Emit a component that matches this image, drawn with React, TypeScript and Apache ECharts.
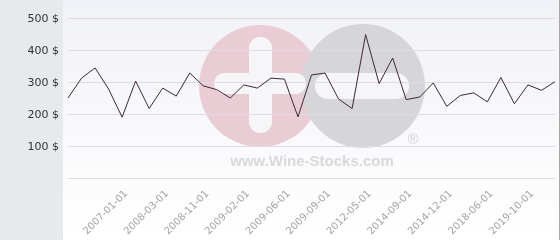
import React, { useEffect, useRef } from "react";
import * as echarts from "echarts";

const dates = [
  "2005-06-01", "2005-11-01", "2006-03-01", "2006-09-01", "2007-01-01",
  "2007-05-01", "2007-10-01", "2008-03-01", "2008-06-01", "2008-09-01",
  "2008-11-01", "2008-12-01", "2009-01-01", "2009-02-01", "2009-03-01",
  "2009-05-01", "2009-06-01", "2009-07-01", "2009-08-01", "2009-09-01",
  "2010-03-01", "2011-06-01", "2012-05-01", "2013-02-01", "2013-11-01",
  "2014-09-01", "2014-10-01", "2014-11-01", "2014-12-01", "2015-09-01",
  "2017-02-01", "2018-06-01", "2018-11-01", "2019-04-01", "2019-10-01",
  "2020-03-01", "2020-09-01",
];

const prices = [
  250, 312, 344, 278, 190, 303, 217, 281, 256, 328,
  288, 276, 250, 291, 281, 312, 309, 191, 322, 328,
  247, 217, 448, 295, 375, 245, 253, 297, 224, 258,
  266, 238, 314, 232, 291, 274, 301,
];

const yTicks = [0, 100, 200, 300, 400, 500];
const currency = "$";
const watermarkText = "www.Wine-Stocks.com";

export default function App() {
  const ref = useRef<HTMLDivElement>(null);

  useEffect(() => {
    if (!ref.current) return;
    const chart = echarts.init(ref.current, undefined, { renderer: "svg" });
    const font = "DejaVu Sans";
    chart.setOption({
      animation: false,
      backgroundColor: "transparent",
      grid: { left: 68, right: 5, top: 18, bottom: 62, containLabel: false },
      graphic: [
        {
          type: "rect",
          z: -100,
          silent: true,
          shape: { x: 63, y: 0, width: 497, height: 240 },
          style: {
            fill: new echarts.graphic.LinearGradient(0, 0, 0, 1, [
              { offset: 0, color: "#f1f2f7" },
              { offset: 1, color: "#ffffff" },
            ]),
          },
        },
        {
          type: "rect",
          z: -100,
          silent: true,
          shape: { x: 0, y: 0, width: 63, height: 240 },
          style: { fill: "#e6eaed" },
        },
        {
          type: "line",
          z: 10,
          silent: true,
          shape: { x1: 559.5, y1: 0, x2: 559.5, y2: 240 },
          style: { stroke: "#a8a8a8", lineWidth: 1 },
        },
        {
          type: "circle",
          z: -50,
          silent: true,
          shape: { cx: 260, cy: 86, r: 61 },
          style: { fill: "#e9ccd4" },
        },
        {
          type: "circle",
          z: -49,
          silent: true,
          shape: { cx: 363, cy: 86, r: 62 },
          style: { fill: "#d6d6d8" },
        },
        {
          type: "rect",
          z: -48,
          silent: true,
          shape: { x: 249, y: 37, width: 23, height: 96, r: 11 },
          style: { fill: "#f6f6f9" },
        },
        {
          type: "rect",
          z: -48,
          silent: true,
          shape: { x: 214, y: 73, width: 92, height: 21, r: 10 },
          style: { fill: "#f6f6f9" },
        },
        {
          type: "rect",
          z: -48,
          silent: true,
          shape: { x: 315, y: 73, width: 94, height: 26, r: 13 },
          style: { fill: "#f6f6f9" },
        },
        {
          type: "text",
          z: -47,
          silent: true,
          x: 312,
          y: 160,
          style: {
            text: watermarkText,
            fontFamily: "Liberation Sans",
            fontWeight: "bold",
            fontSize: 15,
            fill: "#d9d9db",
            align: "center",
            verticalAlign: "middle",
          },
        },
        {
          type: "text",
          z: -47,
          silent: true,
          x: 413,
          y: 139,
          style: {
            text: "®",
            fontFamily: "Liberation Sans",
            fontSize: 14,
            fill: "#cfcfd1",
            align: "center",
            verticalAlign: "middle",
          },
        },
      ],
      xAxis: {
        type: "category",
        data: dates,
        boundaryGap: false,
        axisLine: { show: true, lineStyle: { color: "#dcdce2", width: 1 } },
        axisTick: { show: false },
        splitLine: { show: false },
        axisLabel: {
          rotate: 45,
          margin: 10,
          verticalAlign: "top",
          fontFamily: font,
          fontSize: 10,
          color: "#a3a3a3",
          interval: (idx: number) => idx >= 4 && (idx - 4) % 3 === 0,
        },
      },
      yAxis: {
        type: "value",
        min: yTicks[0],
        max: yTicks[yTicks.length - 1],
        interval: 100,
        axisLine: { show: false },
        axisTick: { show: false },
        splitLine: { show: true, lineStyle: { color: "#dcdce2", width: 1 } },
        axisLabel: {
          margin: 9,
          fontFamily: font,
          fontSize: 11,
          color: "#333333",
          formatter: (v: number) => (v === 0 ? "" : `${v} ${currency}`),
        },
      },
      series: [
        {
          type: "line",
          data: prices,
          symbol: "none",
          lineStyle: { color: "#3d2834", width: 1 },
          z: 5,
        },
      ],
    });
    return () => chart.dispose();
  }, []);

  return (
    <div
      ref={ref}
      style={{ position: "fixed", left: 0, top: 0, width: 560, height: 240 }}
    />
  );
}
